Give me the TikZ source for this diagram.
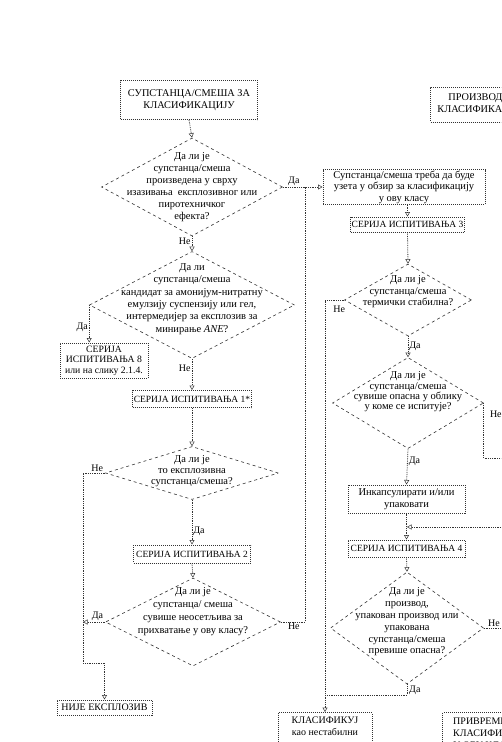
\documentclass[tikz,border=0pt]{standalone}
\usepackage{fontspec}
\setmainfont{Liberation Serif}
\usetikzlibrary{shapes.geometric,arrows.meta}
\newcommand{\fsz}[2]{\fontsize{#1}{#2}\selectfont}
\begin{document}
\begin{tikzpicture}[x=1pt,y=-1pt,
  every node/.style={font=\fsz{10.5}{11.5}, text=black},
  box/.style={draw=black!80, densely dotted, line width=1pt, align=center, inner sep=1pt},
  capbox/.style={box, font=\fsz{9.5}{11.5}},
  dia/.style={draw=black!80, dashed, line width=0.6pt, diamond, inner sep=0pt},
  dtxt/.style={align=center, inner sep=0pt},
  conn/.style={draw=black!80, densely dotted, line width=0.8pt},
  arr/.style={conn, -{Triangle[open,length=4.5pt,width=5pt,line width=0.5pt]}},
  lab/.style={inner sep=1pt, font=\fsz{10}{11}}
]
\useasboundingbox (0,0) rectangle (501,742);
\clip (0,0) rectangle (501,742);
\fill[white] (0,0) rectangle (501,742);

% left column
\node[box, font=\fsz{10.3}{12}, minimum width=137pt, minimum height=39pt] (B1) at (189,100) {СУПСТАНЦА/СМЕША ЗА\\КЛАСИФИКАЦИЈУ};
\node[dia, minimum width=181pt, minimum height=98pt] (D1) at (192,187) {};
\node[dtxt, font=\fsz{10.5}{12}] (D1t) at (192,187) {Да ли је\\супстанца/смеша\\произведена у сврху\\изазивања\ \ експлозивног или\\пиротехничког\\ефекта?};
\node[dia, minimum width=205pt, minimum height=107pt] (D2) at (192,305) {};
\node[dtxt, font=\fsz{10.5}{12.4}] (D2t) at (192,299) {Да ли\\супстанца/смеша\\кандидат за амонијум-нитратну\\емулзију суспензију или гел,\\интермедијер за експлозив за\\минирање \textit{ANE}?};
\node[box, font=\fsz{9.7}{10.6}, minimum width=88pt, minimum height=35pt] (B8) at (104,360.5) {СЕРИЈА\\ИСПИТИВАЊА 8\\или на слику 2.1.4.};
\node[capbox, minimum width=119pt, minimum height=17pt] (S1) at (192,399) {СЕРИЈА ИСПИТИВАЊА 1*};
\node[dia, minimum width=173pt, minimum height=53pt] (D3) at (192,473) {};
\node[dtxt, font=\fsz{10.5}{11}] (D3t) at (192,471) {Да ли је\\то експлозивна\\супстанца/смеша?};
\node[capbox, minimum width=117pt, minimum height=18pt] (S2) at (192,554) {СЕРИЈА ИСПИТИВАЊА 2};
\node[dia, minimum width=175pt, minimum height=88pt] (D4) at (193,622) {};
\node[dtxt, font=\fsz{10.5}{13}] (D4t) at (193,612) {Да ли је\\супстанца/ смеша\\сувише неосетљива за\\прихватање у ову класу?};
\node[box, font=\fsz{10}{11.5}, minimum width=95pt, minimum height=15pt] (NE) at (104.5,707.5) {НИЈЕ ЕКСПЛОЗИВ};

% right column
\node[box, font=\fsz{10.3}{12}, minimum width=105pt, minimum height=35pt] (PR) at (483,104.5) {ПРОИЗВОД ЗА\\КЛАСИФИКАЦИЈУ};
\node[box, font=\fsz{10.5}{11.5}, minimum width=162pt, minimum height=33pt] (CT) at (404,187) {Супстанца/смеша треба да буде\\узета у обзир за класификацију\\у ову класу};
\node[capbox, minimum width=111pt, minimum height=15pt] (S3) at (407.5,224.5) {СЕРИЈА ИСПИТИВАЊА 3};
\node[dia, minimum width=127pt, minimum height=72pt] (D5) at (408,300) {};
\node[dtxt, font=\fsz{10.5}{11.5}] (D5t) at (408,292) {Да ли је\\супстанца/смеша\\термички стабилна?};
\node[dia, minimum width=151pt, minimum height=91pt] (D6) at (408,403) {};
\node[dtxt, font=\fsz{10.5}{10.3}] (D6t) at (408,392) {Да ли је\\супстанца/смеша\\сувише опасна у облику\\у коме се испитује?};
\node[box, minimum width=117pt, minimum height=28pt] (INK) at (406.5,499) {Инкапсулирати и/или\\упаковати};
\node[capbox, minimum width=117pt, minimum height=17pt] (S4) at (406.5,548.5) {СЕРИЈА ИСПИТИВАЊА 4};
\node[dia, minimum width=153pt, minimum height=112pt] (D7) at (407,628) {};
\node[dtxt, font=\fsz{10.5}{11.8}] (D7t) at (407,622) {Да ли је\\производ,\\упакован производ или\\упакована\\супстанца/смеша\\превише опасна?};
\node[box, font=\fsz{10}{11.8}, minimum width=94pt, minimum height=40pt, anchor=north] (KL) at (325,712) {КЛАСИФИКУЈ\\као нестабилни\\експлозив};
\node[box, font=\fsz{10}{11.8}, minimum width=110pt, minimum height=42pt, anchor=north west, align=left, inner sep=4pt] (PRV) at (442,712) {ПРИВРЕМЕНО\\КЛАСИФИКОВАТИ\\У ОВУ КЛАСУ};

% coordinates
\coordinate (J1) at (305,187);
\coordinate (K1) at (83,663);
\coordinate (K2) at (83,622);
\coordinate (R1) at (515,458);
\coordinate (M1) at (407,527);
\coordinate (R3) at (540,628);
\coordinate (J2) at (325,695);

% connectors left
\draw[arr] (B1.south) -- (D1.north);
\draw[arr] (D1.east) -- node[lab, anchor=south west, pos=0, xshift=4pt]{Да} (CT.west);
\draw[conn] (D4.east) -| (J1);
\node[lab, anchor=north west, xshift=6pt] (L4n) at (D4.east) {Не};
\draw[arr] (D1.south) -- node[lab, anchor=north east, pos=0]{Не} (D2.north);
\draw[arr] (D2.west) -- node[lab, anchor=east, pos=0.6]{Да} (D2.west |- B8.north);
\draw[arr] (D2.south) -- node[lab, anchor=east, pos=0.3]{Не} (S1.north);
\draw[arr] (S1.south) -- (D3.north);
\draw[arr] (D3.west) -| (K1) -| (NE.north);
\node[lab, anchor=south east, xshift=-1pt] (L3n) at (D3.west) {Не};
\draw[arr] (D3.south) -- node[lab, anchor=west, pos=0.7]{Да} (S2.north);
\draw[arr] (S2.south) -- (D4.north);
\draw[arr] (D4.west) -- node[lab, anchor=south, pos=0.35]{Да} (K2);

% connectors right
\draw[arr] (S3.north |- CT.south) -- (S3.north);
\draw[arr] (S3.south) -- (D5.north);
\draw[arr] (D5.west) -| (KL.north);
\node[lab, anchor=north west, xshift=-12pt, yshift=-5pt] (L5n) at (D5.west) {Не};
\draw[arr] (D5.south) -- node[lab, anchor=west, pos=0.5]{Да} (D6.north);
\draw[arr] (D6.east) |- (R1) |- (M1);
\node[lab, anchor=north west, xshift=5pt, yshift=-7pt] (L6n) at (D6.east) {Не};
\draw[arr] (D6.south) -- node[lab, anchor=west, pos=0.34]{Да} (INK.north);
\draw[arr] (INK.south) -- (S4.north);
\draw[arr] (S4.south) -- (D7.north);
\draw[conn] (D7.east) -- node[lab, anchor=south west, pos=0, xshift=3pt]{Не} (R3);
\draw[conn] (D7.south) |- (J2);
\node[lab, anchor=north west, xshift=1pt] (L7d) at (D7.south) {Да};
\end{tikzpicture}
\end{document}
